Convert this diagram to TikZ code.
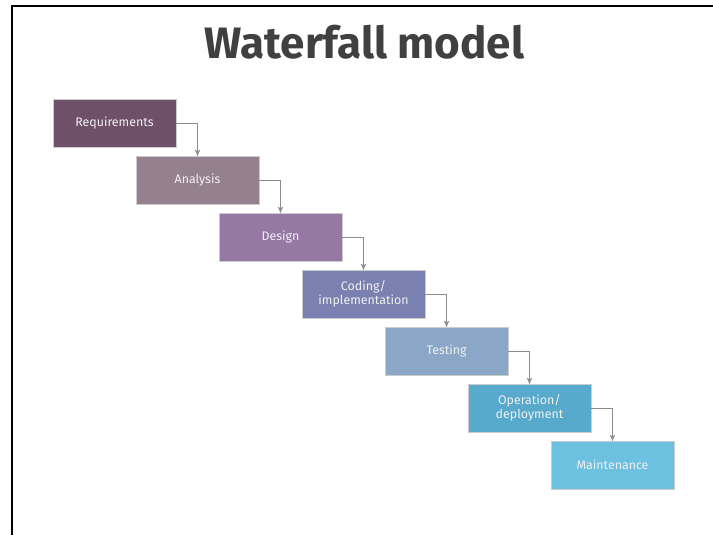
\documentclass[tikz,border=0pt]{standalone}
\usepackage{fontspec}
\setmainfont{Fira Sans}
\usetikzlibrary{positioning, arrows}

\definecolor{reqcol}{HTML}{6E5068}
\definecolor{anacol}{HTML}{94808F}
\definecolor{descol}{HTML}{9678A5}
\definecolor{codcol}{HTML}{7A80B0}
\definecolor{tstcol}{HTML}{8AA7C8}
\definecolor{opscol}{HTML}{58AACD}
\definecolor{mntcol}{HTML}{6CC0E0}
\definecolor{titlecol}{HTML}{404040}

\begin{document}
\begin{tikzpicture}[x=0.75pt,y=-0.75pt,node distance=42.75pt and 62.25pt,on grid]
  \tikzset{->, >=stealth',
    phase/.style={rectangle, minimum width=92.25pt, minimum height=36pt,
      text=white!94!black, align=center, inner sep=0pt,
      draw=white!80!black, line width=0.3pt,
      font=\fontsize{9.3}{10.2}\selectfont},
    fall/.style={draw=gray!90, line width=0.6pt, to path={-| (\tikztotarget)}}}

  \useasboundingbox (0,0) rectangle (713,535);
  \draw[-, line width=1.5pt] (11.5,535) -- (11.5,6.5) -- (713,6.5);

  \node[font=\bfseries\fontsize{33}{38}\selectfont, text=titlecol]
                       (title) at (364.5,42) {Waterfall model};

  \node[phase, fill=reqcol] (req) at (114.5,123)          {Requirements};
  \node[phase, fill=anacol] (ana) [below right = of req] {Analysis};
  \node[phase, fill=descol] (des) [below right = of ana] {Design};
  \node[phase, fill=codcol] (cod) [below right = of des] {Coding/\\implementation};
  \node[phase, fill=tstcol] (tst) [below right = of cod] {Testing};
  \node[phase, fill=opscol] (ops) [below right = of tst] {Operation/\\deployment};
  \node[phase, fill=mntcol] (mnt) [below right = of ops] {Maintenance};

  \path
    (req) edge[fall] (ana)
    (ana) edge[fall] (des)
    (des) edge[fall] (cod)
    (cod) edge[fall] (tst)
    (tst) edge[fall] (ops)
    (ops) edge[fall] (mnt);
\end{tikzpicture}
\end{document}
